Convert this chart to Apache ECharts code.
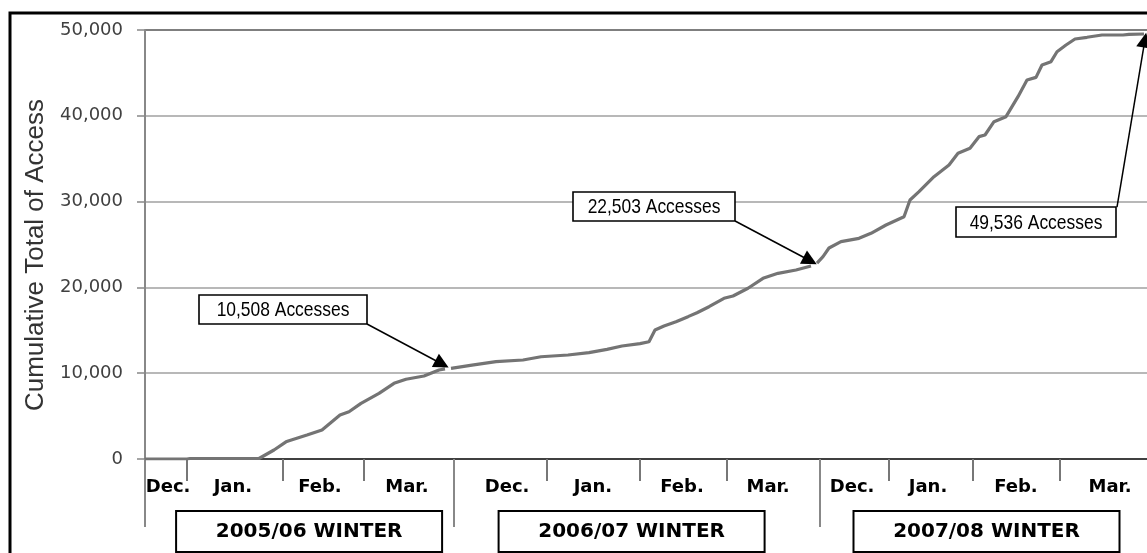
<!DOCTYPE html>
<html>
<head>
<meta charset="utf-8">
<script src="https://cdn.jsdelivr.net/npm/echarts@6/dist/echarts.min.js"></script>
<style>html,body{margin:0;padding:0;background:#fff;}#chart{width:1147px;height:553px;}</style>
</head>
<body>
<div id="chart"></div>
<script>
// x unit: days from start of the 2005/06 record (approx. 3 px per day on the picture)
const monthTicks = [14, 46, 73, 134, 165, 194, 248, 276, 305];
const seasonTicks = [0, 103, 225];
const monthLabels = ['Dec.', 'Jan.', 'Feb.', 'Mar.', 'Dec.', 'Jan.', 'Feb.', 'Mar.', 'Dec.', 'Jan.', 'Feb.', 'Mar.'];
const monthLabelPos = [7.7, 29.3, 58.3, 87.3, 120.7, 149.3, 179, 207.7, 235.7, 261, 290.3, 321.7];
const seasonLabels = ['2005/06 WINTER', '2006/07 WINTER', '2007/08 WINTER'];
const seasonCenters = [54.7, 162.2, 280.5];

const winter0506 = [[0,0],[14,0],[15,60],[38,60],[43,1050],[47,2000],[48,2130],[54,2800],[59,3380],[65,5130],[68,5510],[72,6490],[78,7650],[83,8820],[87,9290],[93,9670],[98,10370],[100,10508]];
const winter0607 = [[102,10570],[109,10950],[117,11340],[126,11540],[132,11920],[141,12120],[148,12390],[154,12780],[159,13170],[165,13450],[168,13670],[170,15030],[173,15500],[177,16000],[181,16590],[184,17050],[188,17750],[193,18730],[196,19000],[201,19900],[206,21060],[211,21640],[217,22030],[222,22503]];
const winter0708 = [[224,22840],[226,23580],[228,24590],[232,25330],[238,25720],[242,26300],[247,27270],[253,28240],[255,30190],[258,31160],[263,32900],[268,34270],[271,35630],[275,36210],[278,37570],[280,37760],[283,39310],[287,39900],[291,42230],[294,44170],[297,44480],[299,45920],[302,46310],[304,47470],[307,48250],[310,48950],[314,49150],[319,49420],[326,49420],[328,49500],[333,49536]];

const annotationTexts = ['10,508 Accesses', '22,503 Accesses', '49,536 Accesses'];
const arrowFrom = [[74, 15734], [196.7, 27740], [324, 29370]];
const arrowTo = [[99, 11072], [221.7, 23110], [333.3, 48830]];

const X_MAX = 334;

function nearestIdx(arr, v) {
  let b = 0; for (let i = 1; i < arr.length; i++) if (Math.abs(arr[i] - v) < Math.abs(arr[b] - v)) b = i; return b;
}
const fmt = v => String(v).replace(/\B(?=(\d{3})+(?!\d))/g, ',');

const chart = echarts.init(document.getElementById('chart'), null, {renderer: 'canvas'});

const lineStyle = {color: '#747474', width: 3.2};
function seasonSeries(name, data) {
  return {
    name: name, type: 'line', data: data, symbol: 'none', lineStyle: lineStyle,
    xAxisIndex: 0, yAxisIndex: 0, z: 3, animation: false
  };
}

const arrowSeries = {
  type: 'line', data: [], xAxisIndex: 0, yAxisIndex: 0, symbol: 'none', animation: false,
  markLine: {
    silent: true, animation: false,
    symbol: ['none', 'triangle'], symbolSize: [15, 15],
    lineStyle: {color: '#000', width: 1.5, type: 'solid'},
    label: {show: false},
    data: arrowFrom.map((f, i) => [{coord: f}, {coord: arrowTo[i]}])
  }
};

const boxes = [
  {x: 199, y: 295, w: 168, h: 29},
  {x: 573, y: 192, w: 162, h: 29},
  {x: 956, y: 207, w: 160, h: 30}
];

const graphics = [
  {type: 'rect', shape: {x: 10, y: 13, width: 1146, height: 546}, style: {fill: 'none', stroke: '#000', lineWidth: 3}, z: 100},
  {type: 'text', x: 36, y: 255, rotation: Math.PI / 2,
   style: {text: 'Cumulative Total of Access', font: '26px "Liberation Sans", Arial, sans-serif', fill: '#333', textAlign: 'center', textVerticalAlign: 'middle'}, z: 100}
];
boxes.forEach((b, i) => {
  graphics.push({type: 'rect', shape: {x: b.x, y: b.y, width: b.w, height: b.h}, style: {fill: '#fff', stroke: '#000', lineWidth: 1.6}, z: 100});
  graphics.push({type: 'text', x: b.x + b.w / 2, y: b.y + b.h / 2 + 1, scaleX: 0.83,
    style: {text: annotationTexts[i], font: '21px "Liberation Sans", Arial, sans-serif', fill: '#000', textAlign: 'center', textVerticalAlign: 'middle'}, z: 101});
});

const option = {
  animation: false,
  backgroundColor: '#fff',
  grid: {left: 145, right: 0, top: 30, bottom: 94, containLabel: false},
  xAxis: [
    {
      type: 'value', min: 0, max: X_MAX, position: 'bottom',
      axisLine: {show: true, onZero: false, lineStyle: {color: '#404040', width: 2}},
      axisTick: {show: true, customValues: monthTicks, length: 22, lineStyle: {color: '#777', width: 2}},
      axisLabel: {show: true, customValues: monthLabelPos, margin: 19, color: '#000',
        fontFamily: '"DejaVu Sans", sans-serif', fontWeight: 'bold', fontSize: 18,
        formatter: v => monthLabels[nearestIdx(monthLabelPos, v)]},
      splitLine: {show: false}
    },
    {
      type: 'value', min: 0, max: X_MAX, position: 'bottom', offset: 0,
      axisLine: {show: false, onZero: false},
      axisTick: {show: true, customValues: seasonTicks, length: 68, lineStyle: {color: '#888', width: 2}},
      axisLabel: {show: false},
      splitLine: {show: false}
    },
    {
      type: 'value', min: 0, max: X_MAX, position: 'bottom', offset: 0,
      axisLine: {show: false, onZero: false},
      axisTick: {show: false},
      axisLabel: {show: true, customValues: seasonCenters, margin: 53, color: '#000',
        fontFamily: '"DejaVu Sans", sans-serif', fontWeight: 'bold', fontSize: 20,
        width: 264, height: 39, lineHeight: 39, align: 'center', overflow: 'none',
        borderColor: '#000', borderWidth: 2, backgroundColor: '#fff', padding: [0, 0, 0, 0],
        formatter: v => seasonLabels[nearestIdx(seasonCenters, v)]},
      splitLine: {show: false}
    }
  ],
  yAxis: {
    type: 'value', min: 0, max: 50000, interval: 10000,
    axisLine: {show: true, lineStyle: {color: '#888', width: 2}},
    axisTick: {show: true, length: 8, lineStyle: {color: '#888', width: 1.5}},
    axisLabel: {margin: 22, color: '#404040', fontSize: 18, fontFamily: '"DejaVu Sans", sans-serif', formatter: v => fmt(v)},
    splitLine: {show: true, lineStyle: {color: ['#404040', '#a0a0a0', '#a0a0a0', '#a0a0a0', '#a0a0a0', '#555'], width: 1.5}}
  },
  series: [
    seasonSeries('2005/06', winter0506),
    seasonSeries('2006/07', winter0607),
    seasonSeries('2007/08', winter0708),
    arrowSeries
  ],
  graphic: graphics
};
chart.setOption(option);
</script>
</body>
</html>
